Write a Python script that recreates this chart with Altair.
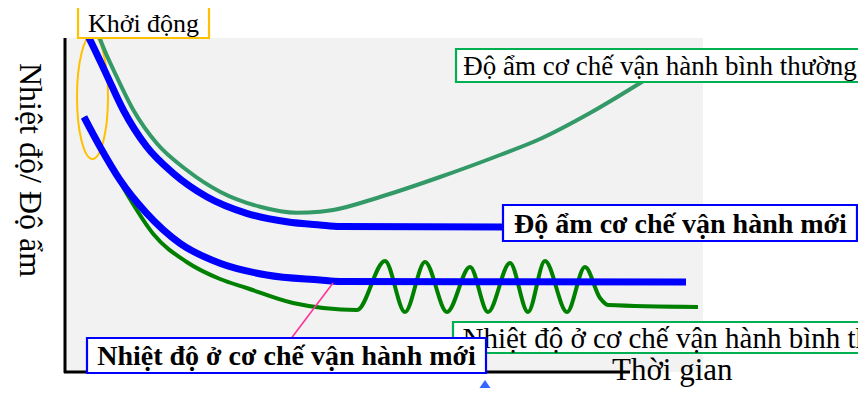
import altair as alt
import pandas as pd

# ---- Schematic data (x: time, y: level; screen-like units, smaller y = higher) ----
# Normal-mode humidity (teal-green curve)
hum_normal_x = [88, 101.7, 116.7, 133.3, 156.7, 186.7, 220, 260, 296.7, 320, 333, 380, 440, 500, 540, 590, 645]
hum_normal_y = [3, 43.3, 76.7, 110, 143.3, 170, 191.7, 206.7, 212.7, 211.7, 210, 197, 177, 155, 139, 113, 80]

# New-mode humidity (thick blue)
hum_new_x = [87, 91.7, 106.7, 123.3, 146.7, 173.3, 206.7, 246.7, 286.7, 320, 340, 505]
hum_new_y = [34, 43.3, 75, 110, 146.7, 173.3, 196.7, 213.3, 221.7, 225, 226.5, 227]

# New-mode temperature (thick blue)
temp_new_x = [84, 100, 120, 146.7, 180, 220, 266.7, 320, 340, 686]
temp_new_y = [117, 146.7, 180, 213.3, 243.3, 263.3, 275, 280, 281.5, 282]

# Normal-mode temperature (green, oscillating)
temp_normal_x = [84, 100, 116.7, 130, 153.3, 186.7, 220, 246.7, 293, 357,
                 385, 405, 425, 447, 470, 488, 510, 528, 545, 567, 585, 600, 608, 698]
temp_normal_y = [117, 148, 176, 199, 234, 262, 279, 288, 303, 310,
                 261, 312, 262, 312, 267, 312, 263, 312, 261, 312, 267, 298, 305, 307]

# Pink leader line
leader_x = [290, 333]
leader_y = [340, 283]

# Plot background and axis lines
bg_x, bg_x2, bg_y, bg_y2 = [65], [703], [38], [372]
axis_x = [65, 64]
axis_x2 = [65, 630]
axis_y = [38, 372]
axis_y2 = [373, 372]

# Start-up ellipse centre
ell_x, ell_y = [92.5], [97]

# Marker triangle
tri_x, tri_y = [485], [380]

# Label boxes
box_labels = [
    "Khởi động",
    "Độ ẩm cơ chế vận hành bình thường",
    "Độ ẩm cơ chế vận hành mới",
    "Nhiệt độ ở cơ chế vận hành bình thường",
    "Nhiệt độ ở cơ chế vận hành mới",
]
box_x1 = [78, 456, 503, 453, 87]
box_x2 = [209, 863, 857, 905, 486]
box_y1 = [6, 49, 205, 322, 338]
box_y2 = [38, 82, 241, 353, 373]
box_stroke = ["#ffc000", "#00b050", "#0000ff", "#00b050", "#0000ff"]
text_x = [143.5, 660, 680.5, 462.5, 286.5]
text_y = [32, 75, 233, 348, 365]
text_size = [26, 27, 28, 29, 28]
text_weight = ["normal", "normal", "bold", "normal", "bold"]
text_align = ["center", "center", "center", "left", "center"]

y_title = "Nhiệt độ/ Độ ẩm"
x_title = "Thời gian"

FONT = "Liberation Serif"

xs = alt.Scale(domain=[8, 858], nice=False, zero=False)
ys = alt.Scale(domain=[8, 388], nice=False, zero=False, reverse=True)


def X(f="x"):
    return alt.X(f"{f}:Q", scale=xs, axis=None)


def Y(f="y"):
    return alt.Y(f"{f}:Q", scale=ys, axis=None)


def line_df(xv, yv):
    return pd.DataFrame({"x": xv, "y": yv})


bg = alt.Chart(pd.DataFrame({"x": bg_x, "x2": bg_x2, "y": bg_y, "y2": bg_y2})).mark_rect(
    fill="#f2f2f2"
).encode(x=X(), x2="x2:Q", y=Y(), y2="y2:Q")

axes = alt.Chart(pd.DataFrame({"x": axis_x, "x2": axis_x2, "y": axis_y, "y2": axis_y2})).mark_rule(
    color="black", strokeWidth=3
).encode(x=X(), x2="x2:Q", y=Y(), y2="y2:Q")

ellipse_path = ("M0,-1 C0.138,-1 0.25,-0.552 0.25,0 C0.25,0.552 0.138,1 0,1 "
                "C-0.138,1 -0.25,0.552 -0.25,0 C-0.25,-0.552 -0.138,-1 0,-1 Z")
ellipse = alt.Chart(pd.DataFrame({"x": ell_x, "y": ell_y})).mark_point(
    shape=ellipse_path, size=124 * 124, filled=False, stroke="#ffc000",
    strokeWidth=2, opacity=1
).encode(x=X(), y=Y())

hum_normal = alt.Chart(line_df(hum_normal_x, hum_normal_y)).mark_line(
    color="#339966", strokeWidth=4, interpolate="monotone"
).encode(x=X(), y=Y())

temp_normal = alt.Chart(line_df(temp_normal_x, temp_normal_y)).mark_line(
    color="#008000", strokeWidth=4, interpolate="monotone"
).encode(x=X(), y=Y())

hum_new = alt.Chart(line_df(hum_new_x, hum_new_y)).mark_line(
    color="#0000ff", strokeWidth=7, interpolate="monotone"
).encode(x=X(), y=Y())

temp_new = alt.Chart(line_df(temp_new_x, temp_new_y)).mark_line(
    color="#0000ff", strokeWidth=7, interpolate="monotone"
).encode(x=X(), y=Y())

leader = alt.Chart(line_df(leader_x, leader_y)).mark_line(
    color="#ff3399", strokeWidth=1.6
).encode(x=X(), y=Y())

layers = [bg, axes, ellipse, hum_normal, temp_normal, hum_new, temp_new, leader]

for i in range(len(box_labels)):
    bdf = pd.DataFrame({"x": [box_x1[i]], "x2": [box_x2[i]], "y": [box_y1[i]], "y2": [box_y2[i]]})
    layers.append(
        alt.Chart(bdf).mark_rect(fill="white", stroke=box_stroke[i], strokeWidth=2.2).encode(
            x=X(), x2="x2:Q", y=Y(), y2="y2:Q"
        )
    )
    tdf = pd.DataFrame({"x": [text_x[i]], "y": [text_y[i]], "t": [box_labels[i]]})
    layers.append(
        alt.Chart(tdf).mark_text(
            font=FONT, fontSize=text_size[i], fontWeight=text_weight[i],
            align=text_align[i], baseline="alphabetic", color="black"
        ).encode(x=X(), y=Y(), text="t:N")
    )

ytitle = alt.Chart(pd.DataFrame({"x": [20], "y": [170], "t": [y_title]})).mark_text(
    font=FONT, fontSize=32, angle=90, align="center", baseline="alphabetic", color="black"
).encode(x=X(), y=Y(), text="t:N")

xtitle = alt.Chart(pd.DataFrame({"x": [612], "y": [380], "t": [x_title]})).mark_text(
    font=FONT, fontSize=31, align="left", baseline="alphabetic", color="black"
).encode(x=X(), y=Y(), text="t:N")

triangle = alt.Chart(pd.DataFrame({"x": tri_x, "y": tri_y})).mark_point(
    shape="M0,0 L0.69,1 L-0.69,1 Z", size=1600, filled=True, color="#3366ff",
    opacity=1, strokeWidth=0
).encode(x=X(), y=Y())

layers += [ytitle, xtitle, triangle]

chart = alt.layer(*layers).properties(
    width=850, height=380, padding=0, autosize="none", background="white"
).configure_view(stroke=None)

chart.save("out.html", embed_options={"renderer": "svg", "actions": False})
